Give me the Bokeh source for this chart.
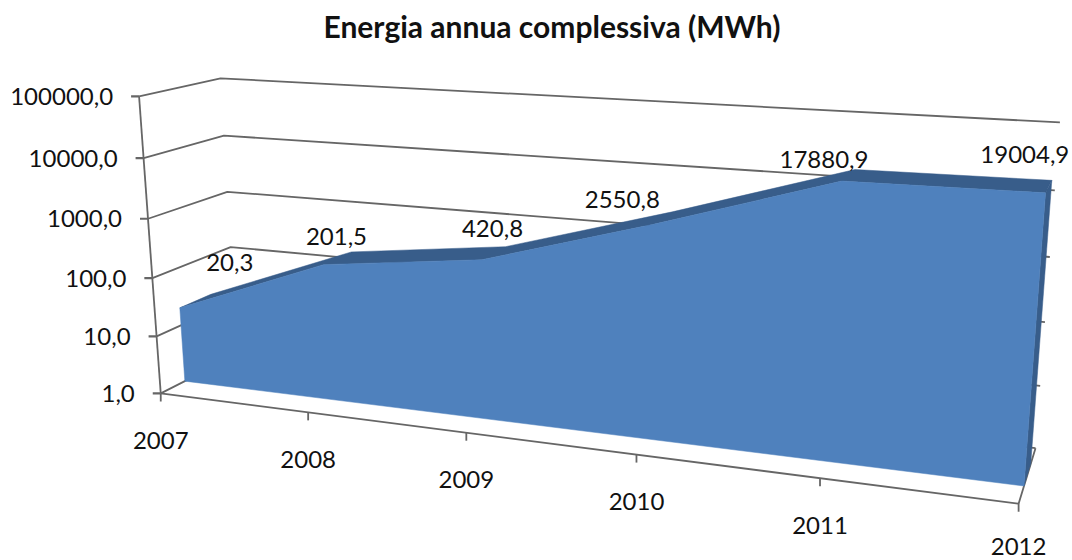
import numpy as np
from bokeh.plotting import figure
from bokeh.models import Range1d
from bokeh.core.properties import value
from bokeh.embed import file_html
from bokeh.resources import INLINE

title = "Energia annua complessiva (MWh)"
years = ["2007", "2008", "2009", "2010", "2011", "2012"]
energy = [20.3, 201.5, 420.8, 2550.8, 17880.9, 19004.9]
energy_labels = ["20,3", "201,5", "420,8", "2550,8", "17880,9", "19004,9"]
tick_values = [1, 10, 100, 1000, 10000, 100000]
tick_labels = ["1,0", "10,0", "100,0", "1000,0", "10000,0", "100000,0"]

# label offsets (px) from the series' back edge
label_dx = [19, -15, -13, -50, -31, -27]
label_dy = [-32, -15, -18, -12, -10, -26]
year_dy = [47, 47, 47, 47, 47, 43]

FONT = "Lato"
AXIS = "#666666"
FACE = "#4f81bd"
DARK = "#385d8a"
INK = "#111111"
D0, D1 = 0.3, 0.7

# Camera fit: (category, log10 value, depth) -> page pixel
calib = [
    (0,0,0,160,393),(5,0,0,1019,503),(1,0,0,307,412),(4,0,0,819,478),
    (0,1,0,157,335),(0,2,0,152,278),(0,3,0,148,218),(0,4,0,143,158),(0,5,0,138,97),
    (0,0,1,237,355),(0,5,1,220,77),(5,5,1,1059,122),(5,0,1,1035,448),
    (0,1.307,.3,179,306),(4,4.252,.3,842,181),(5,4.279,.3,1045,192),
    (0,0,.3,184,381),(5,0,.3,1023,485),
]
rows = []
for u, v, d, x, y in calib:
    rows.append([u, v, d, 1, 0, 0, 0, 0, -x*u, -x*v, -x*d, -x])
    rows.append([0, 0, 0, 0, u, v, d, 1, -y*u, -y*v, -y*d, -y])
_, _, vt = np.linalg.svd(np.array(rows, dtype=float))
M = vt[-1].reshape(3, 4)

def proj(u, v, d):
    h = M @ np.array([u, v, d, 1.0])
    return h[0]/h[2], h[1]/h[2]

def polyline(points):
    pts = [proj(*q) for q in points]
    return [a for a, _ in pts], [b for _, b in pts]

p = figure(width=1072, height=560, output_backend="svg", toolbar_location=None,
           x_range=Range1d(0, 1072), y_range=Range1d(560, 48),
           min_border_left=0, min_border_right=0, min_border_bottom=0, min_border_top=48,
           title=title)
p.title.text_font = FONT
p.title.text_font_size = "30px"
p.title.text_font_style = "bold"
p.title.text_color = INK
p.title.align = "left"
p.title.offset = 323
p.title.standoff = 9
p.axis.visible = False
p.grid.visible = False
p.outline_line_color = None
p.background_fill_color = "white"

logs = [float(np.log10(t)) for t in tick_values]
nu = len(years) - 1
vals = [float(np.log10(e)) for e in energy]

LW = 1.8
# walls
for lv in logs:
    xs, ys = polyline([(0, lv, 0), (0, lv, 1), (nu, lv, 1)])
    p.line(xs, ys, line_color=AXIS, line_width=LW)
# floor + axes
xs, ys = polyline([(0, 0, 0), (nu, 0, 0), (nu, 0, 1)])
p.line(xs, ys, line_color=AXIS, line_width=LW)
xs, ys = polyline([(0, 0, 0), (0, logs[-1], 0)])
p.line(xs, ys, line_color=AXIS, line_width=LW)

# ticks and tick labels
for lv, lab in zip(logs, tick_labels):
    x, y = proj(0, lv, 0)
    p.line([x-8, x], [y, y], line_color=AXIS, line_width=2.2)
    p.text([x-26], [y], text=[lab], text_font=value(FONT), text_font_size="24px",
           text_align="right", text_baseline="middle", text_color=INK)
for i, yr in enumerate(years):
    x, y = proj(i, 0, 0)
    p.line([x, x], [y, y+8], line_color=AXIS, line_width=LW)
    p.text([x], [y+year_dy[i]], text=[yr], text_font=value(FONT), text_font_size="24px",
           text_align="center", text_baseline="middle", text_color=INK)

# area: top strip, right side, front face
top = [(i, v, D0) for i, v in enumerate(vals)] + [(i, v, D1) for i, v in reversed(list(enumerate(vals)))]
xs, ys = polyline(top)
p.patch(xs, ys, fill_color=DARK, line_color=DARK, line_width=0.5)
xs, ys = polyline([(nu, vals[-1], D0), (nu, vals[-1], D1), (nu, 0, D1), (nu, 0, D0)])
p.patch(xs, ys, fill_color=DARK, line_color=DARK, line_width=0.5)
front = [(0, 0, D0)] + [(i, v, D0) for i, v in enumerate(vals)] + [(nu, 0, D0)]
xs, ys = polyline(front)
p.patch(xs, ys, fill_color=FACE, line_color=FACE, line_width=0.5)

# data labels
for i, (v, lab) in enumerate(zip(vals, energy_labels)):
    x, y = proj(i, v, D1)
    p.text([x+label_dx[i]], [y+label_dy[i]], text=[lab], text_font=value(FONT), text_font_size="24px",
           text_align="center", text_baseline="middle", text_color=INK)

open("out.html", "w").write(file_html(p, INLINE))
